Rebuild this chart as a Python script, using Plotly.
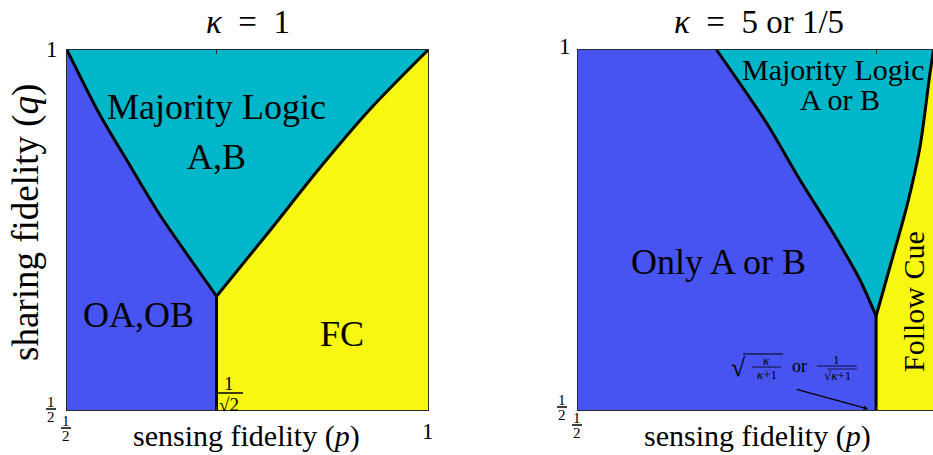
import numpy as np
import plotly.graph_objects as go

# ---------------- data ----------------
kappa_left = 1.0
kappa_right = 5.0

# phase boundaries read as (sensing fidelity p, sharing fidelity q)
# kappa = 1 : majority logic / own-info boundary
k1_ml_own_p = [0.5, 0.5457, 0.5827, 0.6288, 0.6749]
k1_ml_own_q = [1.0, 0.9097, 0.8472, 0.7708, 0.7038]
# kappa = 1 : majority logic / follow-cue boundary
k1_ml_fc_p = [0.78, 0.85, 0.92, 1.0]
k1_ml_fc_q = [0.748, 0.836, 0.918, 1.0]
k1_triple_q = 0.658

# kappa = 5 : majority logic / only-A-or-B boundary
k5_ml_own_p = [0.692, 0.7614, 0.8075, 0.8536, 0.8906]
k5_ml_own_q = [1.0, 0.8982, 0.8194, 0.7454, 0.6806]
# kappa = 5 : majority logic / follow-cue boundary
k5_ml_fc_p = [0.9321, 0.9553, 0.9737, 0.9875, 0.9924]
k5_ml_fc_q = [0.699, 0.7824, 0.8657, 0.9676, 1.0]
k5_triple_q = 0.6306

NB = "\u00a0"
titles = [f"<i>κ</i>{NB}{NB}={NB}{NB}1", f"<i>κ</i>{NB}{NB}={NB}{NB}5 or 1/5"]
left_labels = ["Majority Logic", "A,B", "OA,OB", "FC"]
right_labels = ["Majority Logic", "A or B", "Only A or B", "Follow Cue"]

# ---------------- style ----------------
BLUE = "#4754F2"
CYAN = "#00B6C9"
YELLOW = "#F7F712"
FRAME = "#2b2b2b"
FONT = "Liberation Serif"
W, H = 933, 455


def px(x):
    return x / W


def py(y):
    return 1 - y / H


fig = go.Figure()


def poly(xs, ys, color, xa, ya):
    fig.add_trace(go.Scatter(x=xs, y=ys, fill="toself", fillcolor=color, mode="lines",
                             line=dict(width=0, color=color), hoverinfo="skip",
                             showlegend=False, xaxis=xa, yaxis=ya))


def bline(xs, ys, xa, ya, shape="spline"):
    fig.add_trace(go.Scatter(x=xs, y=ys, mode="lines",
                             line=dict(width=3, color="black", shape=shape, smoothing=0.8),
                             hoverinfo="skip", showlegend=False, xaxis=xa, yaxis=ya))


def panel(kappa, own_p, own_q, fc_p, fc_q, tq, xa, ya):
    ps = np.sqrt(kappa / (kappa + 1)) if kappa >= 1 else 1 / np.sqrt(kappa + 1)
    left_p = list(own_p) + [ps]
    left_q = list(own_q) + [tq]
    right_p = [ps] + list(fc_p)
    right_q = [tq] + list(fc_q)
    # own-information region
    poly([0.5, 0.5] + left_p + [ps, 0.5], [0.5, 1.0] + left_q + [0.5, 0.5], BLUE, xa, ya)
    # majority logic region
    poly(left_p + right_p[1:] + [1.0, left_p[0]],
         left_q + right_q[1:] + [1.0, 1.0], CYAN, xa, ya)
    # follow cue region
    poly(right_p + [1.0, 1.0, ps, ps], right_q + [1.0, 0.5, 0.5, tq], YELLOW, xa, ya)
    bline(left_p, left_q, xa, ya)
    bline(right_p, right_q, xa, ya)
    bline([ps, ps], [tq, 0.5], xa, ya, shape="linear")
    return ps


ps1 = panel(kappa_left, k1_ml_own_p, k1_ml_own_q, k1_ml_fc_p, k1_ml_fc_q, k1_triple_q, "x", "y")
ps5 = panel(kappa_right, k5_ml_own_p, k5_ml_own_q, k5_ml_fc_p, k5_ml_fc_q, k5_triple_q, "x2", "y2")

ax_common = dict(showgrid=False, zeroline=False, showline=True, linecolor=FRAME,
                 linewidth=1, showticklabels=False)
fig.update_layout(
    width=W, height=H, margin=dict(l=0, r=0, t=0, b=0),
    paper_bgcolor="white", plot_bgcolor="white",
    xaxis=dict(domain=[px(67), px(428)], range=[0.5, 1.0], mirror="ticks", ticks="inside",
               tickvals=[ps1], ticklen=4, tickcolor=FRAME, anchor="y", **ax_common),
    yaxis=dict(domain=[py(410), py(50)], range=[0.5, 1.0], mirror=True, ticks="",
               anchor="x", **ax_common),
    xaxis2=dict(domain=[px(578), 1.0], range=[0.5, 0.5 + 355 / 722], mirror="ticks",
                ticks="inside", tickvals=[ps5], ticklen=4, tickcolor=FRAME, anchor="y2",
                **ax_common),
    yaxis2=dict(domain=[py(410), py(50)], range=[0.5, 1.0], mirror=False, ticks="",
                anchor="x2", **ax_common),
    font=dict(family=FONT, color="black"),
)

ann = []
shapes = []


def text(x, y, s, size, xref="paper", yref="paper", angle=0, **kw):
    ann.append(dict(x=x, y=y, xref=xref, yref=yref, text=s, showarrow=False,
                    font=dict(family=FONT, size=size, color="black"),
                    xanchor="center", yanchor="middle", textangle=angle, borderpad=0, **kw))


def frac(cx, cy, num, den, size, half=5, gap=7, bar_w=1.5):
    # stacked fraction centred on pixel (cx, cy)
    text(px(cx), py(cy - gap), num, size)
    text(px(cx), py(cy + gap + 1), den, size)
    shapes.append(dict(type="line", xref="paper", yref="paper",
                       x0=px(cx - half), x1=px(cx + half), y0=py(cy), y1=py(cy),
                       line=dict(color="black", width=bar_w)))


# titles
text(px(247.5), py(22), titles[0], 33)
text(px(758.5), py(22), titles[1], 33)

# axis titles
text(px(247), py(436), "sensing fidelity (<i>p</i>)", 30)
text(px(757), py(436), "sensing fidelity (<i>p</i>)", 30)
text(px(26), py(223), "sharing fidelity (<i>q</i>)", 37, angle=-90)

# tick labels
text(px(52), py(49), "1", 23)
text(px(428), py(431), "1", 23)
text(px(565), py(47), "1", 23)
frac(51, 409, "1", "2", 15)
frac(66, 428, "1", "2", 15)
frac(562, 407, "1", "2", 15)
frac(577, 425, "1", "2", 15)

# 1/sqrt(2) marker on the kappa = 1 panel
frac(229, 393, "1", "√2", 19, half=14, gap=10)

# region labels, kappa = 1
text(ps1, 0.921, left_labels[0], 36, "x", "y")
text(ps1, 0.852, left_labels[1], 36, "x", "y")
text(0.5997, 0.632, left_labels[2], 36, "x", "y")
text(0.881, 0.605, left_labels[3], 36, "x", "y")

# region labels, kappa = 5
text(0.853, 0.973, right_labels[0], 30, "x2", "y2")
text(0.863, 0.931, right_labels[1], 30, "x2", "y2")
text(0.694, 0.705, right_labels[2], 36, "x2", "y2")
text(0.964, 0.65, right_labels[3], 30, "x2", "y2", angle=-90)

# threshold formula: sqrt(k/(k+1)) or 1/sqrt(k+1)
text(px(738), py(367), "√", 26)
shapes.append(dict(type="line", xref="paper", yref="paper", x0=px(743), x1=px(783),
                   y0=py(354), y1=py(354), line=dict(color="black", width=1)))
text(px(766), py(360), "<i>κ</i>", 13)
shapes.append(dict(type="line", xref="paper", yref="paper", x0=px(752), x1=px(781),
                   y0=py(367), y1=py(367), line=dict(color="black", width=0.8)))
text(px(767), py(374), "<i>κ</i>+1", 13)
text(px(799), py(366), "or", 18)
text(px(836), py(359), "1", 13)
shapes.append(dict(type="line", xref="paper", yref="paper", x0=px(817), x1=px(857),
                   y0=py(366), y1=py(366), line=dict(color="black", width=0.8)))
text(px(837), py(375), "√<i>κ</i>+1", 13)
shapes.append(dict(type="line", xref="paper", yref="paper", x0=px(827), x1=px(857),
                   y0=py(369), y1=py(369), line=dict(color="black", width=0.7)))

# arrow to the threshold on the p axis
ann.append(dict(x=ps5 - 0.011, y=0.5015, xref="x2", yref="y2", ax=-73, ay=-20,
                axref="pixel", ayref="pixel", text="", showarrow=True, arrowhead=2,
                arrowsize=0.7, arrowwidth=1.3, arrowcolor="black"))

fig.update_layout(annotations=ann, shapes=shapes)
fig.write_html("out.html")
